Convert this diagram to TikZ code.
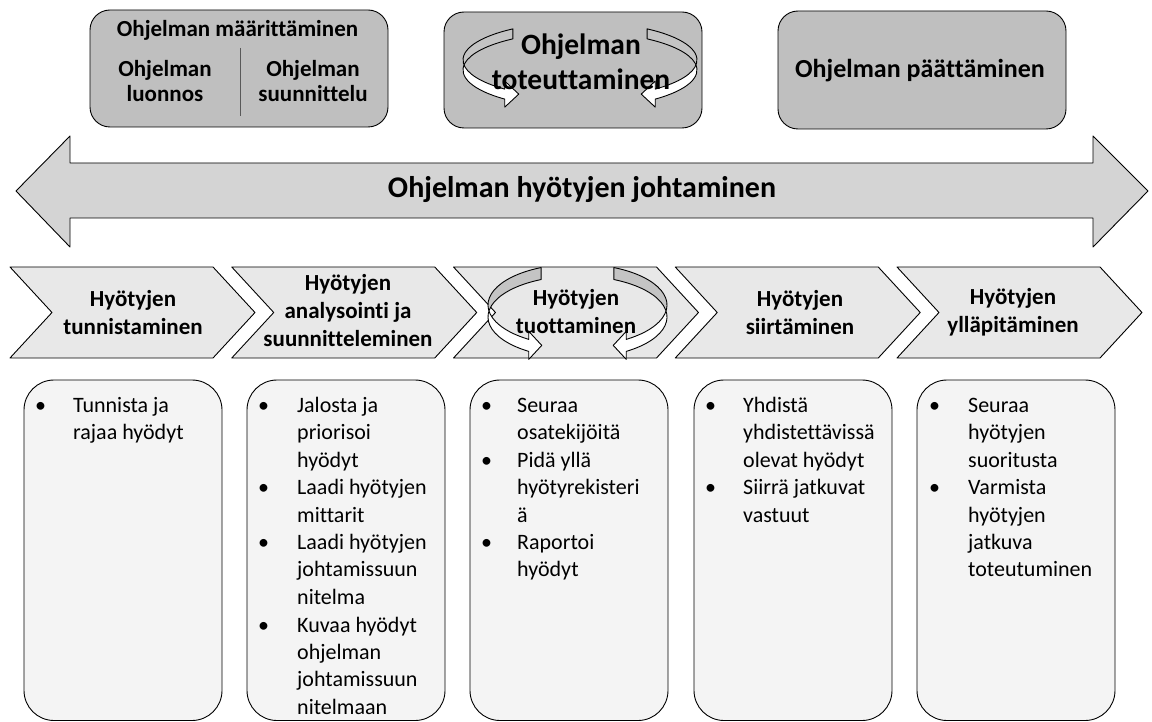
\documentclass[tikz,border=0pt]{standalone}
\usepackage{fontspec}
\setmainfont{Carlito}[Ligatures=NoCommon]
\usetikzlibrary{calc}

\definecolor{phasegrey}{HTML}{BFBFBF}
\definecolor{bandgrey}{HTML}{D4D4D4}
\definecolor{stepgrey}{HTML}{E8E8E8}
\definecolor{cardgrey}{HTML}{F4F4F4}
\definecolor{ribbongrey}{HTML}{C4C4C4}

% A looped ribbon arrow: half of an elliptic band with a head at its lower end.
% #1,#2 centre of the upper ellipse, #3,#4 radii, #5 band height,
% #6 tail angle, #7 head angle, #8 head flare, #9 head length (signed, horizontal)
\newcommand\ribbonarrow[9]{%
  \fill[white] (#1,#2) ++(#6:#3 and #4)
    arc[start angle=#6, end angle=#7, x radius=#3, y radius=#4]
    -- ++(0,-#8) -- ++(#9,{#8+#5/2}) -- ++(-#9,{#8+#5/2}) -- ++(0,-#8)
    arc[start angle=#7, end angle=#6, x radius=#3, y radius=#4] -- cycle;
  \begin{scope}
    \clip (#1-200,#2+#5/2) rectangle (#1+200,#2-200);
    \fill[ribbongrey] (#1,#2) ++(#6:#3 and #4)
      arc[start angle=#6, end angle=#7, x radius=#3, y radius=#4]
      -- ++(0,-#8) -- ++(#9,{#8+#5/2}) -- ++(-#9,{#8+#5/2}) -- ++(0,-#8)
      arc[start angle=#7, end angle=#6, x radius=#3, y radius=#4] -- cycle;
  \end{scope}
  \draw[outline] (#1,#2) ++(#6:#3 and #4)
    arc[start angle=#6, end angle=#7, x radius=#3, y radius=#4]
    -- ++(0,-#8) -- ++(#9,{#8+#5/2}) -- ++(-#9,{#8+#5/2}) -- ++(0,-#8)
    arc[start angle=#7, end angle=#6, x radius=#3, y radius=#4] -- cycle;
}

\begin{document}
\begin{tikzpicture}[x=1pt,y=-1pt,
  outline/.style={draw=black, line width=0.9pt, line join=round},
  phasebox/.style={outline, fill=phasegrey, rounded corners=20pt, rectangle, inner sep=0pt},
  card/.style={outline, fill=cardgrey, rounded corners=30pt},
  chevronbox/.style={outline, fill=stepgrey},
  phasetitle/.style={font=\fontsize{23}{25}\selectfont\bfseries, align=center, inner sep=0pt},
  steplabel/.style={font=\fontsize{23}{28}\selectfont\bfseries, align=center, inner sep=0pt},
  cardtext/.style={font=\fontsize{22}{27.5}\selectfont, anchor=base west, inner sep=0pt},
]
\useasboundingbox (0,0) rectangle (1152,722);
\clip (0,0) rectangle (1152,722);

% programme phases
\node[phasebox, minimum width=298pt, minimum height=117pt] (define) at (239,68.5) {};
\node[phasebox, minimum width=258pt, minimum height=116pt] (implement) at (573,70) {};
\node[phasebox, minimum width=288pt, minimum height=118pt] (close) at (922,70) {};

\node[phasetitle] (definetitle) at (237.5,30.5) {Ohjelman määrittäminen};
\draw[draw=black!65, line width=0.8pt] (240,48) -- (240,116);
\node[phasetitle] (draft) at (165,81) {Ohjelman\\luonnos};
\node[phasetitle] (plan) at (313,81) {Ohjelman\\suunnittelu};

\ribbonarrow{580}{60}{117}{38}{10}{235}{130}{8}{14}
\ribbonarrow{580}{60}{117}{38}{10}{-55}{50}{8}{-14}
\node[phasetitle, font=\fontsize{29.5}{35}\selectfont\bfseries] (impltitle) at (581,62) {Ohjelman\\toteuttaminen};

\node[phasetitle, font=\fontsize{26}{30}\selectfont\bfseries] (closetitle) at (920,71) {Ohjelman päättäminen};

% benefits management band
\draw[outline, fill=bandgrey] (16,191) -- (70,136) -- (70,163) -- (1093,163) -- (1093,136)
  -- (1148,191) -- (1093,247) -- (1093,218) -- (70,218) -- (70,247) -- cycle;
\node[phasetitle, font=\fontsize{30}{34}\selectfont\bfseries] (band) at (582,190) {Ohjelman hyötyjen johtaminen};

% benefit steps
\foreach \i in {0,...,4}{
  \pgfmathsetmacro\L{10+221.75*\i}
  \draw[chevronbox] (\L,267) -- (\L+203,267) -- (\L+245,312.5) -- (\L+203,358)
    -- (\L,358) -- (\L+42,312.5) -- cycle;
}
\ribbonarrow{577.5}{305}{89.5}{41}{12}{246}{123}{8}{13}
\ribbonarrow{577.5}{305}{89.5}{41}{12}{-66}{57}{8}{-13}

\node[steplabel] (step1) at (133,312.5) {Hyötyjen\\tunnistaminen};
\node[steplabel] (step2) at (348,311) {Hyötyjen\\analysointi ja\\suunnitteleminen};
\node[steplabel] (step3) at (576,311.5) {Hyötyjen\\tuottaminen};
\node[steplabel] (step4) at (800,312.5) {Hyötyjen\\siirtäminen};
\node[steplabel] (step5) at (1013,312.5) {Hyötyjen\\ylläpitäminen};

% activity cards
\draw[card] (24,380) rectangle (222,720.5);
\draw[card] (247,380) rectangle (445,720.5);
\draw[card] (470,380) rectangle (668,720.5);
\draw[card] (694,380) rectangle (892,720.5);
\draw[card] (917,380) rectangle (1115,720.5);

\node[cardtext] (tasks1) at (35,412) {\begin{tabular}[t]{@{}p{38pt}@{}l@{}}
\textbullet & Tunnista ja\\ & rajaa hyödyt\end{tabular}};
\node[cardtext] (tasks2) at (258,412) {\begin{tabular}[t]{@{}p{39pt}@{}l@{}}
\textbullet & Jalosta ja\\ & priorisoi\\ & hyödyt\\
\textbullet & Laadi hyötyjen\\ & mittarit\\
\textbullet & Laadi hyötyjen\\ & johtamissuun\\ & nitelma\\
\textbullet & Kuvaa hyödyt\\ & ohjelman\\ & johtamissuun\\ & nitelmaan\end{tabular}};
\node[cardtext] (tasks3) at (481,412) {\begin{tabular}[t]{@{}p{36pt}@{}l@{}}
\textbullet & Seuraa\\ & osatekijöitä\\
\textbullet & Pidä yllä\\ & hyötyrekisteri\\ & ä\\
\textbullet & Raportoi\\ & hyödyt\end{tabular}};
\node[cardtext] (tasks4) at (705,412) {\begin{tabular}[t]{@{}p{38pt}@{}l@{}}
\textbullet & Yhdistä\\ & yhdistettävissä\\ & olevat hyödyt\\
\textbullet & Siirrä jatkuvat\\ & vastuut\end{tabular}};
\node[cardtext] (tasks5) at (929,412) {\begin{tabular}[t]{@{}p{39pt}@{}l@{}}
\textbullet & Seuraa\\ & hyötyjen\\ & suoritusta\\
\textbullet & Varmista\\ & hyötyjen\\ & jatkuva\\ & toteutuminen\end{tabular}};
\end{tikzpicture}
\end{document}
